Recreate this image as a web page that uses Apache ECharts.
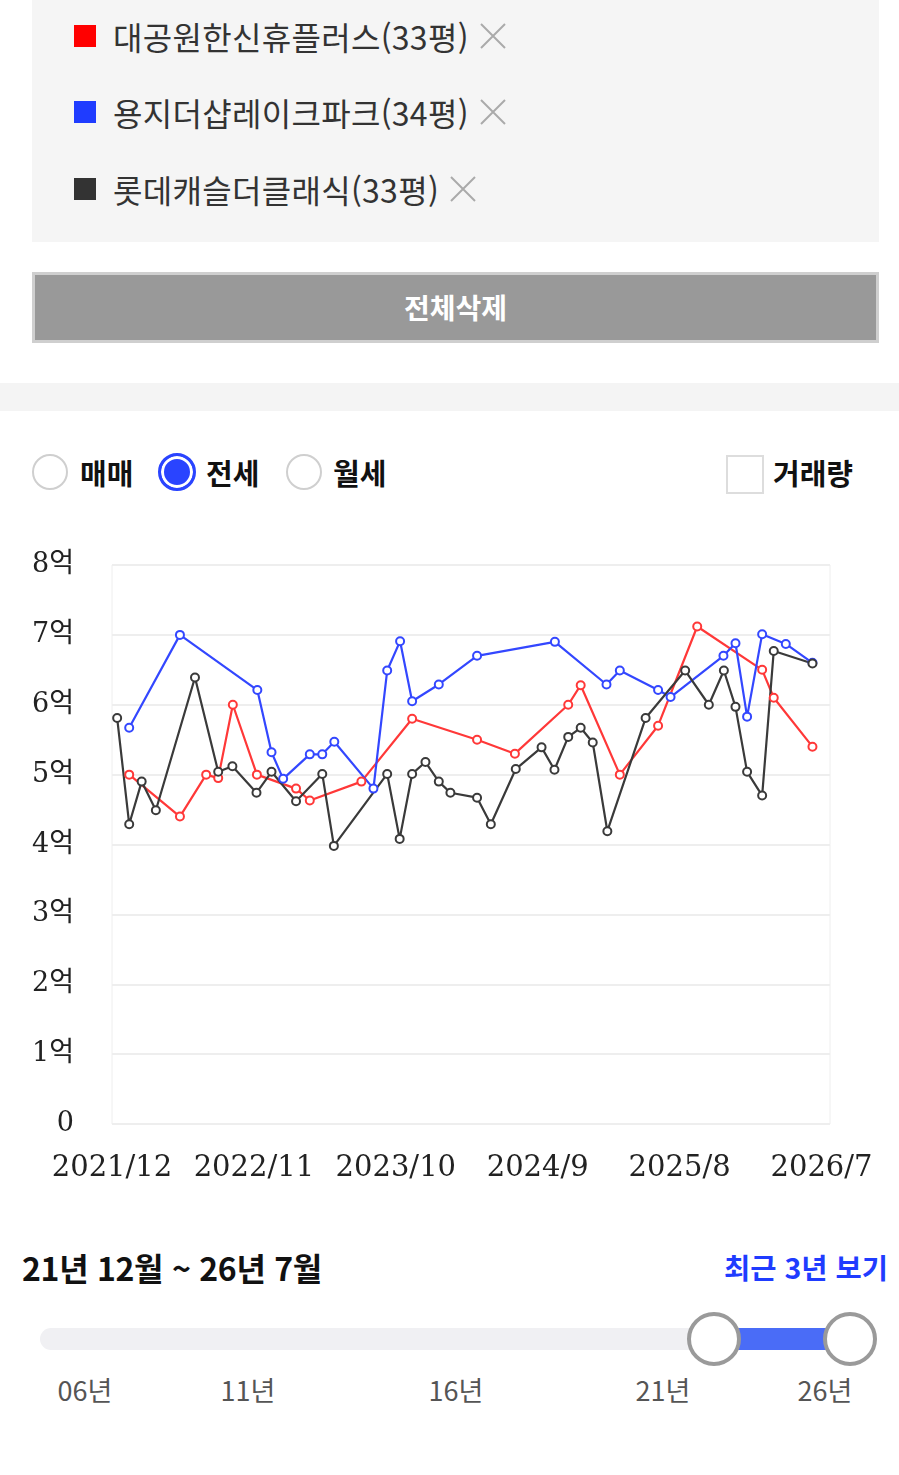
<!DOCTYPE html>
<html lang="ko">
<head>
<meta charset="utf-8">
<title>전세 실거래가</title>
<script src="https://cdn.jsdelivr.net/npm/echarts@6/dist/echarts.min.js"></script>
<style>
    body { margin: 0; width: 899px; height: 1475px; position: relative; background: #fff; overflow: hidden;
        font-family: 'Noto Sans CJK KR', 'Noto Sans', sans-serif; color: #222; }
    .abs { position: absolute; }
    .panel { left: 32px; top: 0; width: 847px; height: 242px; background: #f5f5f5; }
    .row { left: 74px; height: 40px; display: flex; align-items: center; }
    .sq { width: 22px; height: 22px; margin-right: 17px; }
    .row span { font-size: 32px; color: #333; letter-spacing: 0.3px; }
    .row svg { margin-left: 10px; }
    .btn { left: 32px; top: 272px; width: 847px; height: 71px; box-sizing: border-box; background: #999;
        border: 3px solid #cfcfcf; color: #fff; font-weight: bold; font-size: 28px; text-align: center; line-height: 64px; }
    .sep { left: 0; top: 383px; width: 899px; height: 28px; background: #f4f4f4; }
    .radio { width: 36px; height: 36px; border-radius: 50%; box-sizing: border-box; border: 2px solid #cfcfcf; background: #fff; top: 454px; }
    .radio.on { width: 38px; height: 38px; top: 453px; border: 3px solid #2a44ff; background: #2a44ff; box-shadow: inset 0 0 0 3px #fff; }
    .lbl { top: 451px; font-size: 29px; font-weight: bold; color: #111; line-height: 42px; }
    .chk { left: 726px; top: 455px; width: 38px; height: 39px; box-sizing: border-box; border: 2px solid #ddd; background: #fff; }
    #chart { left: 0; top: 520px; width: 899px; height: 700px; }
    .range { left: 22px; top: 1246px; font-size: 32px; font-weight: bold; color: #111; line-height: 42px; letter-spacing: -0.3px; }
    .recent { right: 11px; top: 1246px; font-size: 28.5px; font-weight: bold; color: #1f3cff; line-height: 42px; }
    .track { left: 40px; top: 1328px; width: 810px; height: 22px; border-radius: 11px; background: #f0f0f3; }
    .fill { left: 713px; top: 1328px; width: 137px; height: 22px; background: #4a6cf7; }
    .knob { width: 54px; height: 54px; border-radius: 50%; box-sizing: border-box; border: 4px solid #9a9a9a; background: #fff; top: 1312px; }
    .tick { top: 1370px; font-size: 27px; color: #555; line-height: 40px; transform: translateX(-50%); }
</style>
</head>
<body>
<div class="abs panel"></div>
<div class="abs row" style="top:16px"><div class="sq" style="background:#ff0000"></div><span>대공원한신휴플러스(33평)</span>
    <svg width="28" height="28"><path d="M2 2L26 26M26 2L2 26" stroke="#aaa" stroke-width="2"/></svg></div>
<div class="abs row" style="top:92px"><div class="sq" style="background:#1f3cff"></div><span>용지더샵레이크파크(34평)</span>
    <svg width="28" height="28"><path d="M2 2L26 26M26 2L2 26" stroke="#aaa" stroke-width="2"/></svg></div>
<div class="abs row" style="top:169px"><div class="sq" style="background:#333"></div><span>롯데캐슬더클래식(33평)</span>
    <svg width="28" height="28"><path d="M2 2L26 26M26 2L2 26" stroke="#aaa" stroke-width="2"/></svg></div>
<div class="abs btn">전체삭제</div>
<div class="abs sep"></div>

<div class="abs radio" style="left:32px"></div><div class="abs lbl" style="left:80px">매매</div>
<div class="abs radio on" style="left:158px"></div><div class="abs lbl" style="left:206px">전세</div>
<div class="abs radio" style="left:286px"></div><div class="abs lbl" style="left:333px">월세</div>
<div class="abs chk"></div><div class="abs lbl" style="left:773px">거래량</div>

<div id="chart" class="abs"></div>

<div class="abs range">21년 12월 ~ 26년 7월</div>
<div class="abs recent">최근 3년 보기</div>
<div class="abs track"></div>
<div class="abs fill"></div>
<div class="abs knob" style="left:687px"></div>
<div class="abs knob" style="left:823px"></div>
<div class="abs tick" style="left:85px">06년</div>
<div class="abs tick" style="left:248px">11년</div>
<div class="abs tick" style="left:456px">16년</div>
<div class="abs tick" style="left:663px">21년</div>
<div class="abs tick" style="left:825px">26년</div>

<script>
// 전세 거래 (억)
const redName = '대공원한신휴플러스(33평)'
const redDates = ['2022-01-11', '2022-05-09', '2022-07-10', '2022-08-08', '2022-09-12', '2022-11-08', '2023-02-09',
    '2023-03-11', '2023-07-11', '2023-11-09', '2024-04-10', '2024-07-08', '2024-11-12', '2024-12-11', '2025-03-12',
    '2025-06-11', '2025-09-12', '2026-02-13', '2026-03-10', '2026-06-10']
const redValues = [5.0, 4.4, 5.0, 4.95, 6.0, 5.0, 4.8, 4.63, 4.9, 5.8, 5.5, 5.3, 6.0, 6.28, 5.0, 5.7, 7.12, 6.5, 6.1, 5.4]

const blueName = '용지더샵레이크파크(34평)'
const blueDates = ['2022-01-11', '2022-05-09', '2022-11-09', '2022-12-12', '2023-01-09', '2023-03-11', '2023-04-10',
    '2023-05-08', '2023-08-09', '2023-09-11', '2023-10-11', '2023-11-09', '2024-01-11', '2024-04-10', '2024-10-11',
    '2025-02-11', '2025-03-12', '2025-06-11', '2025-07-10', '2025-11-13', '2025-12-11', '2026-01-08', '2026-02-13',
    '2026-04-08', '2026-06-10']
const blueValues = [5.67, 7.0, 6.21, 5.32, 4.94, 5.29, 5.29, 5.47, 4.8, 6.49, 6.91, 6.05, 6.29, 6.7, 6.9, 6.29, 6.49,
    6.21, 6.11, 6.7, 6.88, 5.83, 7.01, 6.87, 6.6]

const blackName = '롯데캐슬더클래식(33평)'
const blackDates = ['2021-12-13', '2022-01-11', '2022-02-10', '2022-03-13', '2022-06-14', '2022-08-08', '2022-09-11',
    '2022-11-07', '2022-12-12', '2023-02-09', '2023-04-10', '2023-05-07', '2023-09-11', '2023-10-10', '2023-11-09',
    '2023-12-10', '2024-01-11', '2024-02-08', '2024-04-10', '2024-05-12', '2024-07-10', '2024-09-10', '2024-10-10',
    '2024-11-12', '2024-12-11', '2025-01-09', '2025-02-13', '2025-05-12', '2025-08-14', '2025-10-09', '2025-11-14',
    '2025-12-11', '2026-01-08', '2026-02-13', '2026-03-10', '2026-06-10']
const blackValues = [5.81, 4.29, 4.9, 4.49, 6.39, 5.04, 5.12, 4.74, 5.04, 4.62, 5.01, 3.98, 5.01, 4.08, 5.01, 5.18,
    4.9, 4.74, 4.67, 4.29, 5.08, 5.39, 5.07, 5.54, 5.67, 5.46, 4.19, 5.81, 6.49, 6.0, 6.49, 5.97, 5.04, 4.7, 6.77, 6.59]

// x축: 2021/12 부터 개월 수, 11개월 간격 라벨
const xTickStep = 11
const xMaxMonth = 55.66

function toMonth(s) {
    const [y, m, d] = s.split('-').map(Number)
    return (y - 2021) * 12 + (m - 12) + (d - 1) / 30
}

function monthLabel(v) {
    const n = Math.round(v)
    if (Math.abs(v - n) > 0.01 || n % xTickStep !== 0) return ''
    const y = 2021 + Math.floor((11 + n) / 12)
    const m = ((11 + n) % 12) + 1
    return y + '/' + m
}

function makeSeries(name, dates, values, color) {
    return {
        name: name,
        type: 'line',
        symbol: 'emptyCircle',
        symbolSize: 8,
        showAllSymbol: true,
        lineStyle: { width: 2.2, color: color },
        itemStyle: { color: color, borderWidth: 2 },
        data: dates.map((d, i) => [toMonth(d), values[i]]),
    }
}

const chartDom = document.querySelector('#chart')
let myChart = echarts.init(chartDom)
let option = {
    animation: false,
    grid: {
        left: 112,
        right: 69,
        top: 45,
        height: 559,
        show: true,
        borderColor: '#eeeeee',
        borderWidth: 1,
    },
    xAxis: {
        type: 'value',
        min: 0,
        max: xMaxMonth,
        interval: xTickStep,
        axisLine: { show: false },
        axisTick: { show: false },
        splitLine: { show: false },
        axisLabel: {
            margin: 30,
            showMaxLabel: false,
            fontFamily: 'DejaVu Serif',
            fontSize: 29,
            color: '#222',
            formatter: monthLabel,
        },
    },
    yAxis: {
        type: 'value',
        min: 0,
        max: 8,
        interval: 1,
        axisLine: { show: false },
        axisTick: { show: false },
        splitLine: { lineStyle: { color: '#eeeeee', width: 2 } },
        axisLabel: {
            margin: 38,
            fontFamily: 'DejaVu Serif, Noto Sans CJK KR',
            fontSize: 27,
            color: '#222',
            formatter: (v) => (v === 0 ? '0' : v + '억'),
        },
    },
    series: [
        makeSeries(redName, redDates, redValues, '#ff3838'),
        makeSeries(blueName, blueDates, blueValues, '#3347ff'),
        makeSeries(blackName, blackDates, blackValues, '#3a3a3a'),
    ],
}
myChart.setOption(option)
</script>
</body>
</html>
